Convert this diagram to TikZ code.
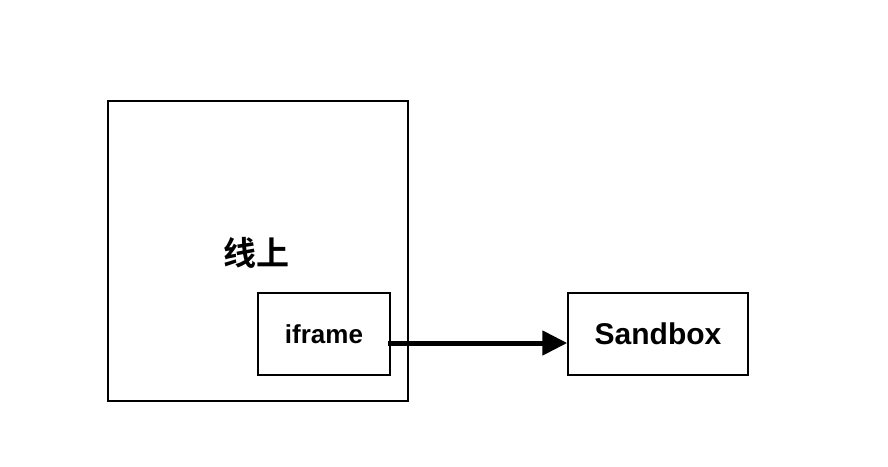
\documentclass[tikz,border=0pt]{standalone}
\usepackage{fontspec}
\setmainfont{Liberation Sans}
\newfontfamily\cjk{Noto Sans CJK SC Bold}
\usetikzlibrary{arrows.meta}
\tikzset{
  frame/.style={draw=black, line width=1.5pt},
}
\begin{document}
\begin{tikzpicture}[x=1pt,y=-1pt]
\useasboundingbox (0,0) rectangle (888,466);
\draw[frame] (108,101) rectangle (408,401);
\node[font=\cjk\fontsize{33}{33}\selectfont] (online) at (256,253) {线上};
\node[frame, minimum width=132pt, minimum height=82pt, inner sep=0pt,
  font=\bfseries\fontsize{26}{26}\selectfont] (iframe) at (324,334) {iframe};
\node[frame, minimum width=180pt, minimum height=82pt, inner sep=0pt,
  font=\bfseries\fontsize{30}{30}\selectfont] (sandbox) at (658,334) {Sandbox};
\draw[line width=5pt, -{Triangle[length=25pt,width=24pt]}] ([xshift=-3pt,yshift=-9pt]iframe.east) -- ([yshift=-9pt]sandbox.west);
\end{tikzpicture}
\end{document}
